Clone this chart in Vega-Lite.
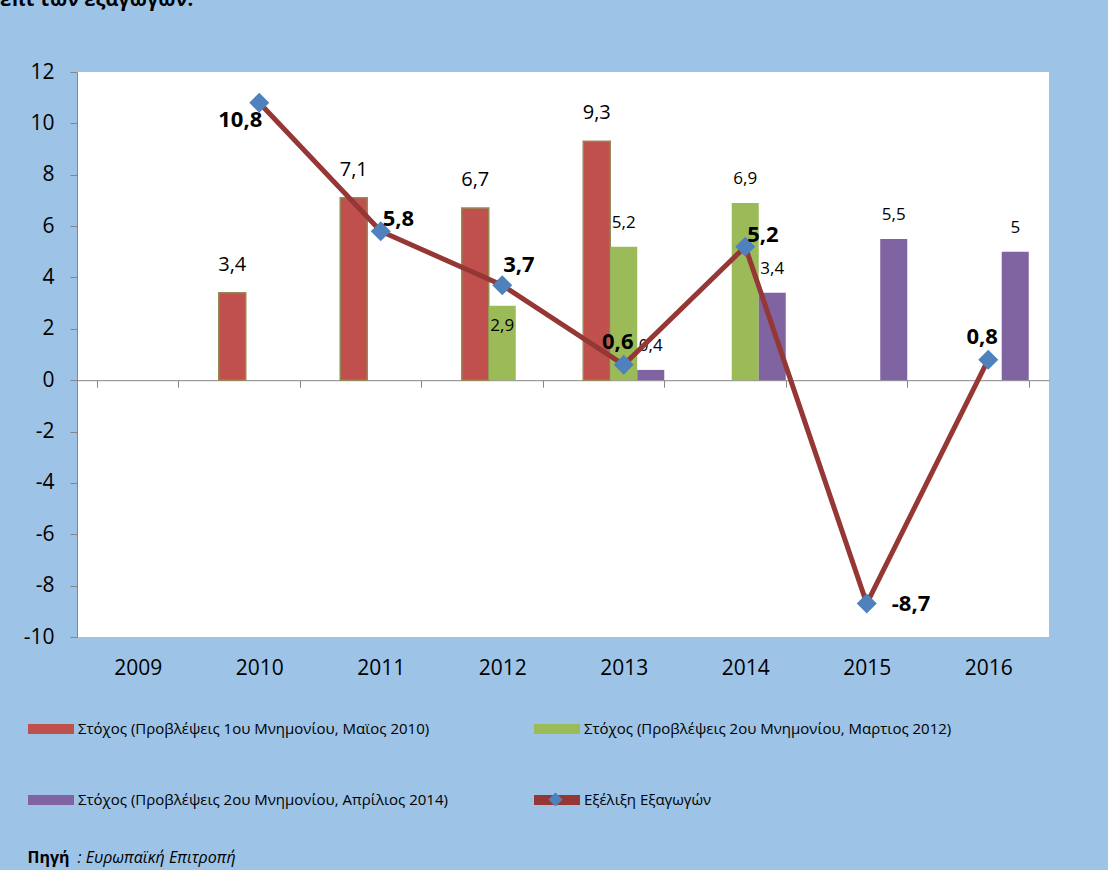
{
  "$schema": "https://vega.github.io/schema/vega-lite/v6.json",
  "width": 972,
  "height": 565,
  "autosize": {"type": "none"},
  "padding": {"left": 77, "top": 72, "right": 59, "bottom": 233},
  "background": "#9DC3E6",
  "config": {
    "view": {"fill": "white", "stroke": null},
    "font": "Open Sans",
    "locale": {"number": {"decimal": ",", "thousands": ".", "grouping": [3], "currency": ["", " €"], "minus": "-"}}
  },
  "title": {
    "text": "επί των εξαγωγών.",
    "orient": "top",
    "anchor": "start",
    "frame": "group",
    "fontSize": 20,
    "fontWeight": "bold",
    "font": "Open Sans",
    "color": "black",
    "dx": -77,
    "offset": 35,
    "baseline": "alphabetic"
  },
  "datasets": {
    "bars": [
      {"year": "2010", "series": "Στόχος (Προβλέψεις  1ου Μνημονίου, Μαϊος 2010)", "value": 3.4},
      {"year": "2011", "series": "Στόχος (Προβλέψεις  1ου Μνημονίου, Μαϊος 2010)", "value": 7.1},
      {"year": "2012", "series": "Στόχος (Προβλέψεις  1ου Μνημονίου, Μαϊος 2010)", "value": 6.7},
      {"year": "2013", "series": "Στόχος (Προβλέψεις  1ου Μνημονίου, Μαϊος 2010)", "value": 9.3},
      {"year": "2012", "series": "Στόχος (Προβλέψεις  2ου Μνημονίου, Μαρτιος 2012)", "value": 2.9},
      {"year": "2013", "series": "Στόχος (Προβλέψεις  2ου Μνημονίου, Μαρτιος 2012)", "value": 5.2},
      {"year": "2014", "series": "Στόχος (Προβλέψεις  2ου Μνημονίου, Μαρτιος 2012)", "value": 6.9},
      {"year": "2013", "series": "Στόχος (Προβλέψεις  2ου Μνημονίου, Απρίλιος 2014)", "value": 0.4},
      {"year": "2014", "series": "Στόχος (Προβλέψεις  2ου Μνημονίου, Απρίλιος 2014)", "value": 3.4},
      {"year": "2015", "series": "Στόχος (Προβλέψεις  2ου Μνημονίου, Απρίλιος 2014)", "value": 5.5},
      {"year": "2016", "series": "Στόχος (Προβλέψεις  2ου Μνημονίου, Απρίλιος 2014)", "value": 5}
    ],
    "line": [
      {"year": "2010", "series": "Εξέλιξη Εξαγωγών", "value": 10.8},
      {"year": "2011", "series": "Εξέλιξη Εξαγωγών", "value": 5.8},
      {"year": "2012", "series": "Εξέλιξη Εξαγωγών", "value": 3.7},
      {"year": "2013", "series": "Εξέλιξη Εξαγωγών", "value": 0.6},
      {"year": "2014", "series": "Εξέλιξη Εξαγωγών", "value": 5.2},
      {"year": "2015", "series": "Εξέλιξη Εξαγωγών", "value": -8.7},
      {"year": "2016", "series": "Εξέλιξη Εξαγωγών", "value": 0.8}
    ]
  },
  "encoding": {
    "x": {
      "field": "year", "type": "nominal",
      "scale": {"domain": ["2009", "2010", "2011", "2012", "2013", "2014", "2015", "2016"], "paddingInner": 0.333, "paddingOuter": 0.1667},
      "axis": {
        "orient": "bottom", "offset": -256.8,
        "domainColor": "#868686", "tickColor": "#868686", "tickSize": 7, "tickBand": "extent",
        "labelAngle": 0, "labelPadding": 281, "labelBaseline": "middle", "labelFontSize": 21, "labelColor": "black", "labelFont": "Open Sans",
        "title": "Πηγή", "titleX": -50, "titleY": 477, "titleAlign": "left", "titleBaseline": "middle", "titleAngle": 0,
        "titleFontSize": 16, "titleFontWeight": "bold", "titleColor": "black", "titleFont": "Open Sans"
      }
    },
    "y": {
      "field": "value", "type": "quantitative",
      "scale": {"domain": [-10, 12], "nice": false, "zero": false},
      "axis": {
        "values": [-10, -8, -6, -4, -2, 0, 2, 4, 6, 8, 10, 12],
        "grid": false, "domainColor": "#868686", "tickColor": "#868686", "tickSize": 7,
        "labelPadding": 16, "labelFontSize": 21, "labelColor": "black", "labelFont": "Open Sans", "format": "d",
        "title": ": Ευρωπαϊκή Επιτροπή", "titleX": 0, "titleY": 785, "titleAngle": 0, "titleAlign": "left", "titleBaseline": "middle",
        "titleFontSize": 16, "titleFontWeight": "normal", "titleFontStyle": "italic", "titleColor": "black", "titleFont": "Open Sans"
      }
    }
  },
  "layer": [
    {
      "data": {"name": "bars"},
      "mark": {"type": "bar", "stroke": "#948A54"},
      "encoding": {
        "xOffset": {"field": "series", "type": "nominal", "scale": {"domain": ["Στόχος (Προβλέψεις  1ου Μνημονίου, Μαϊος 2010)", "Στόχος (Προβλέψεις  2ου Μνημονίου, Μαρτιος 2012)", "Στόχος (Προβλέψεις  2ου Μνημονίου, Απρίλιος 2014)"], "paddingInner": 0, "paddingOuter": 0}},
        "y": {"field": "value", "type": "quantitative"},
        "y2": {"datum": 0},
        "strokeWidth": {"condition": {"test": "datum.series === 'Στόχος (Προβλέψεις  1ου Μνημονίου, Μαϊος 2010)'", "value": 1.5}, "value": 0},
        "color": {
          "field": "series", "type": "nominal",
          "scale": {"domain": ["Στόχος (Προβλέψεις  1ου Μνημονίου, Μαϊος 2010)", "Στόχος (Προβλέψεις  2ου Μνημονίου, Μαρτιος 2012)", "Στόχος (Προβλέψεις  2ου Μνημονίου, Απρίλιος 2014)", "Εξέλιξη Εξαγωγών"], "range": ["#C0504D", "#9BBB59", "#8064A2", "#953735"]},
          "legend": {
            "orient": "none", "legendX": -49, "legendY": 634, "columns": 2, "direction": "horizontal", "title": null,
            "symbolType": "M-1,-0.22H1V0.22H-1Z", "symbolSize": 2116, "symbolStrokeWidth": 0,
            "labelFontSize": 15, "labelFont": "Open Sans", "labelColor": "black", "labelLimit": 700, "labelOffset": 4,
            "columnPadding": 82, "rowPadding": 40
          }
        }
      }
    },
    {
      "data": {"name": "bars"},
      "transform": [{"filter": "datum.series === 'Στόχος (Προβλέψεις  1ου Μνημονίου, Μαϊος 2010)'"}],
      "mark": {"type": "text", "dy": -28, "fontSize": 20, "baseline": "middle", "align": "center", "color": "black"},
      "encoding": {
        "xOffset": {"field": "series", "type": "nominal"},
        "text": {"field": "value", "type": "quantitative", "format": ".1~f"}
      }
    },
    {
      "data": {"name": "bars"},
      "transform": [{"filter": "datum.series !== 'Στόχος (Προβλέψεις  1ου Μνημονίου, Μαϊος 2010)' && !(datum.year === '2012')"}],
      "mark": {"type": "text", "dy": -24, "fontSize": 17, "baseline": "middle", "align": "center", "color": "black"},
      "encoding": {
        "xOffset": {"field": "series", "type": "nominal"},
        "text": {"field": "value", "type": "quantitative", "format": ".1~f"}
      }
    },
    {
      "data": {"name": "bars"},
      "transform": [{"filter": "datum.series !== 'Στόχος (Προβλέψεις  1ου Μνημονίου, Μαϊος 2010)' && datum.year === '2012'"}],
      "mark": {"type": "text", "dy": 20, "fontSize": 17, "baseline": "middle", "align": "center", "color": "black"},
      "encoding": {
        "xOffset": {"field": "series", "type": "nominal"},
        "text": {"field": "value", "type": "quantitative", "format": ".1~f"}
      }
    },
    {
      "data": {"name": "line"},
      "mark": {"type": "line", "strokeWidth": 5},
      "encoding": {
        "color": {"field": "series", "type": "nominal"}
      }
    },
    {
      "data": {"name": "line"},
      "mark": {"type": "point", "shape": "diamond", "filled": true, "size": 400, "opacity": 1},
      "encoding": {
        "fill": {
          "field": "series", "type": "nominal",
          "scale": {"range": ["#4F81BD"]},
          "legend": {"orient": "none", "legendX": 471, "legendY": 720, "title": null, "labelExpr": "''", "symbolType": "diamond", "symbolSize": 200, "symbolStrokeWidth": 0, "symbolOpacity": 1}
        }
      }
    },
    {
      "data": {"name": "line"},
      "transform": [{"filter": "datum.year === '2010'"}],
      "mark": {"type": "text", "align": "right", "baseline": "middle", "dx": 3, "dy": 17, "fontSize": 22, "fontWeight": "bold", "color": "black"},
      "encoding": {"text": {"field": "value", "type": "quantitative", "format": ".1~f"}}
    },
    {
      "data": {"name": "line"},
      "transform": [{"filter": "datum.year === '2011' || datum.year === '2014'"}],
      "mark": {"type": "text", "align": "left", "baseline": "middle", "dx": 2, "dy": -12, "fontSize": 22, "fontWeight": "bold", "color": "black"},
      "encoding": {"text": {"field": "value", "type": "quantitative", "format": ".1~f"}}
    },
    {
      "data": {"name": "line"},
      "transform": [{"filter": "datum.year === '2012'"}],
      "mark": {"type": "text", "align": "left", "baseline": "middle", "dx": 1, "dy": -20, "fontSize": 22, "fontWeight": "bold", "color": "black"},
      "encoding": {"text": {"field": "value", "type": "quantitative", "format": ".1~f"}}
    },
    {
      "data": {"name": "line"},
      "transform": [{"filter": "datum.year === '2013' || datum.year === '2016'"}],
      "mark": {"type": "text", "align": "center", "baseline": "middle", "dx": -6, "dy": -23, "fontSize": 22, "fontWeight": "bold", "color": "black"},
      "encoding": {"text": {"field": "value", "type": "quantitative", "format": ".1~f"}}
    },
    {
      "data": {"name": "line"},
      "transform": [{"filter": "datum.year === '2015'"}],
      "mark": {"type": "text", "align": "left", "baseline": "middle", "dx": 25, "dy": 0, "fontSize": 22, "fontWeight": "bold", "color": "black"},
      "encoding": {"text": {"field": "value", "type": "quantitative", "format": ".1~f"}}
    }
  ]
}
